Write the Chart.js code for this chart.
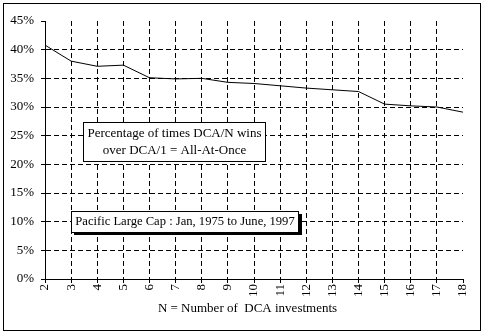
<!DOCTYPE html>
<html>
<head>
    <meta charset="UTF-8">
    <title>DCA/N vs All-At-Once</title>
    <style>
        body {
            margin: 0;
            background: #ffffff;
        }

        #wrap {
            position: relative;
            width: 484px;
            height: 334px;
        }

        #frame {
            position: absolute;
            left: 3px;
            top: 3px;
            width: 476px;
            height: 326px;
            border: 1px solid #000000;
            pointer-events: none;
        }
    </style>
    <script src="https://cdn.jsdelivr.net/npm/chart.js@4.4.0/dist/chart.umd.min.js"></script>
</head>
<body>
<div id="wrap">
    <canvas id="line-chart" width="484" height="334"></canvas>
    <div id="frame"></div>
</div>
<script>
    // N = number of DCA investments
    var nLabels = ['2', '3', '4', '5', '6', '7', '8', '9', '10', '11', '12', '13', '14', '15', '16', '17', '18'];
    // percentage of times DCA/N wins over DCA/1
    var winPct = [40.8, 38.0, 37.1, 37.3, 35.1, 34.9, 35.0, 34.3, 34.1, 33.7, 33.3, 33.0, 32.7, 30.5, 30.2, 30.0, 29.1];
    var yMin = 0;
    var yMax = 45;
    var yStep = 5;

    var serif = '"Liberation Serif", "Times New Roman", serif';

    // text boxes drawn on top of the plot
    var notesPlugin = {
        id: 'notes',
        afterDraw: function(chart) {
            var ctx = chart.ctx;
            ctx.save();
            ctx.font = '13px ' + serif;
            ctx.textAlign = 'center';
            ctx.textBaseline = 'middle';
            ctx.lineWidth = 1;
            ctx.strokeStyle = '#000';

            // box 1
            ctx.fillStyle = '#fff';
            ctx.fillRect(83.5, 122.5, 182, 39);
            ctx.strokeRect(83.5, 122.5, 182, 39);
            ctx.fillStyle = '#000';
            ctx.fillText('Percentage of times DCA/N wins', 174.5, 134);
            ctx.fillText('over DCA/1 = All-At-Once', 174.5, 151);

            // box 2 with shadow
            ctx.font = '12.6px ' + serif;
            ctx.fillStyle = '#000';
            ctx.fillRect(74, 214, 228, 21);
            ctx.fillStyle = '#fff';
            ctx.fillRect(71.5, 211.5, 227, 21);
            ctx.strokeRect(71.5, 211.5, 227, 21);
            ctx.fillStyle = '#000';
            ctx.fillText('Pacific Large Cap : Jan, 1975 to June, 1997', 185, 222);
            ctx.restore();
        }
    };

    var ctx = document.getElementById('line-chart').getContext('2d');
    var chart = new Chart(ctx, {
        type: 'line',
        data: {
            labels: nLabels,
            datasets: [{
                data: winPct,
                borderColor: '#000000',
                borderWidth: 1,
                pointRadius: 0,
                tension: 0,
                fill: false
            }]
        },
        options: {
            responsive: false,
            animation: false,
            devicePixelRatio: 1,
            layout: {
                padding: { left: 0, top: 21, right: 21, bottom: 0 }
            },
            plugins: {
                legend: { display: false },
                tooltip: { enabled: false }
            },
            scales: {
                x: {
                    offset: false,
                    afterFit: function(scale) { scale.height = 55; },
                    ticks: {
                        autoSkip: false,
                        minRotation: 90,
                        maxRotation: 90,
                        padding: 1,
                        color: '#000',
                        font: { family: serif, size: 13 }
                    },
                    grid: {
                        color: function(c) {
                            return (c.index === 0 || c.index === nLabels.length - 1) ? 'rgba(0,0,0,0)' : '#000';
                        },
                        tickColor: '#000',
                        tickLength: 4,
                        lineWidth: 1
                    },
                    border: { display: true, color: '#000', width: 1, dash: [5, 3] },
                    title: {
                        display: true,
                        text: 'N = Number of  DCA investments    ',
                        color: '#000',
                        font: { family: serif, size: 13 },
                        padding: { top: 0, bottom: 18 }
                    }
                },
                y: {
                    min: yMin,
                    max: yMax,
                    afterFit: function(scale) { scale.width = 45; },
                    ticks: {
                        stepSize: yStep,
                        padding: 7,
                        color: '#000',
                        font: { family: serif, size: 13 },
                        callback: function(value) { return value + '%'; }
                    },
                    grid: {
                        color: function(c) {
                            return (c.tick && (c.tick.value === yMax || c.tick.value === yMin)) ? 'rgba(0,0,0,0)' : '#000';
                        },
                        tickColor: '#000',
                        tickLength: 4,
                        lineWidth: 1
                    },
                    border: { display: true, color: '#000', width: 1, dash: [5, 3] }
                }
            }
        },
        plugins: [notesPlugin]
    });
</script>
</body>
</html>
